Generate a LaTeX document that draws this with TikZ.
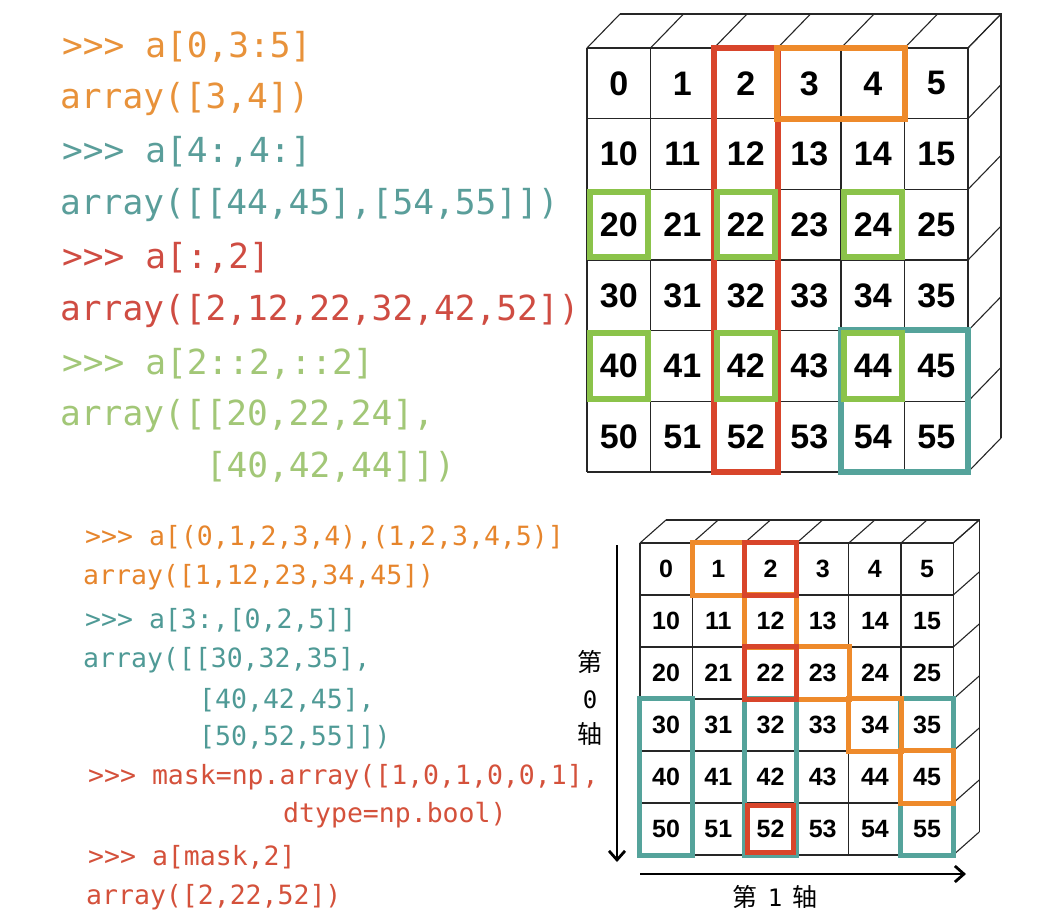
\documentclass[tikz,border=0pt]{standalone}
\usepackage{fontspec}
\setmonofont{DejaVu Sans Mono}
\newfontfamily\numfont{Liberation Sans}
\newfontfamily\cjkfont{Noto Sans CJK SC}
\usetikzlibrary{arrows.meta}
\definecolor{codeorange}{HTML}{E8923A}
\definecolor{codeteal}{HTML}{5A9E9A}
\definecolor{codered}{HTML}{CF4C42}
\definecolor{codegreen}{HTML}{A2C777}
\definecolor{botorange}{HTML}{E6852C}
\definecolor{botteal}{HTML}{4F9A96}
\definecolor{botred}{HTML}{D4513B}
\definecolor{boxred}{HTML}{D8452B}
\definecolor{boxorange}{HTML}{EE8A2B}
\definecolor{boxgreen}{HTML}{8BC34A}
\definecolor{boxteal}{HTML}{55A39B}
\tikzset{
  gridline/.style={draw=black!85, line width=1.1pt},
  bigcell/.style={inner sep=0pt, minimum width=63.5pt, minimum height=70.667pt,
    font=\numfont\bfseries\fontsize{34}{38}\selectfont},
  smallcell/.style={inner sep=0pt, minimum width=52.2pt, minimum height=52pt,
    font=\numfont\bfseries\fontsize{25}{28}\selectfont},
  topcode/.style={anchor=west, inner sep=0pt, font=\ttfamily\fontsize{34.5}{40}\selectfont},
  botcode/.style={anchor=west, inner sep=0pt, font=\ttfamily\fontsize{26.5}{30}\selectfont},
  hlbig/.style={line width=6pt},
  hlsmall/.style={line width=5pt},
  axisarrow/.style={line width=2.8pt, -{Straight Barb[length=9pt,width=16pt,line width=2.8pt]}},
  axislabel/.style={inner sep=0pt, font=\cjkfont\fontsize{25}{28}\selectfont},
  axisdigit/.style={inner sep=0pt, font=\ttfamily\fontsize{24}{28}\selectfont},
}
\begin{document}
\begin{tikzpicture}[x=1pt,y=-1pt]
\fill[white] (0,0) rectangle (1058,918);
\path[use as bounding box] (0,0) rectangle (1058,918);

% ---------------- top code ----------------
\node[topcode, text=codeorange] (ta1) at (62,47)  {>>> a[0,3:5]};
\node[topcode, text=codeorange] (ta2) at (60,99)  {array([3,4])};
\node[topcode, text=codeteal]   (ta3) at (62,152) {>>> a[4:,4:]};
\node[topcode, text=codeteal]   (ta4) at (60,205) {array([[44,45],[54,55]])};
\node[topcode, text=codered]    (ta5) at (62,258) {>>> a[:,2]};
\node[topcode, text=codered]    (ta6) at (60,311) {array([2,12,22,32,42,52])};
\node[topcode, text=codegreen]  (ta7) at (62,364) {>>> a[2::2,::2]};
\node[topcode, text=codegreen]  (ta8) at (60,416) {array([[20,22,24],};
\node[topcode, text=codegreen]  (ta9) at (205.6,467) {[40,42,44]])};

% ---------------- top grid ----------------
\foreach \r in {0,...,5}{
  \foreach \c in {0,...,5}{
    \pgfmathtruncatemacro\v{10*\r+\c}
    \node[bigcell] (t-\r-\c) at ({587+63.5*(\c+0.5)},{48+70.667*(\r+0.5)}) {\v};
  }
}
\foreach \i in {0,...,6}{
  \draw[gridline] ({587+63.5*\i},48) -- ++(0,424);
  \draw[gridline] (587,{48+70.667*\i}) -- ++(381,0);
  \draw[gridline] ({587+63.5*\i},48) -- ++(33,-34);
  \draw[gridline] (968,{48+70.667*\i}) -- ++(33,-34);
}
\draw[gridline] (620,14) -- (1001,14) -- (1001,438);

\draw[hlbig, boxred] (t-0-2.north west) rectangle (t-5-2.south east);
\draw[hlbig, boxorange] (t-0-3.north west) rectangle (t-0-4.south east);
\draw[hlbig, boxteal] (t-4-4.north west) rectangle (t-5-5.south east);
\foreach \r in {2,4}{
  \foreach \c in {0,2,4}{
    \draw[hlbig, boxgreen] ([shift={(3,3)}]t-\r-\c.north west) rectangle ([shift={(-3,-3)}]t-\r-\c.south east);
  }
}

% ---------------- bottom code ----------------
\node[botcode, text=botorange] (ba1) at (85,537) {>>> a[(0,1,2,3,4),(1,2,3,4,5)]};
\node[botcode, text=botorange] (ba2) at (83,577) {array([1,12,23,34,45])};
\node[botcode, text=botteal]   (ba3) at (85,620) {>>> a[3:,[0,2,5]]};
\node[botcode, text=botteal]   (ba4) at (83,660) {array([[30,32,35],};
\node[botcode, text=botteal]   (ba5) at (199,700) {[40,42,45],};
\node[botcode, text=botteal]   (ba6) at (199,737) {[50,52,55]])};
\node[botcode, text=botred]    (ba7) at (88,777) {>>> mask=np.array([1,0,1,0,0,1],};
\node[botcode, text=botred]    (ba8) at (283,815) {dtype=np.bool)};
\node[botcode, text=botred]    (ba9) at (88,857) {>>> a[mask,2]};
\node[botcode, text=botred]    (ba10) at (86,897) {array([2,22,52])};

% ---------------- bottom grid ----------------
\foreach \r in {0,...,5}{
  \foreach \c in {0,...,5}{
    \pgfmathtruncatemacro\v{10*\r+\c}
    \node[smallcell] (b-\r-\c) at ({640+52.2*(\c+0.5)},{543+52*(\r+0.5)}) {\v};
  }
}
\foreach \i in {0,...,6}{
  \draw[gridline] ({640+52.2*\i},543) -- ++(0,312);
  \draw[gridline] (640,{543+52*\i}) -- ++(313.2,0);
  \draw[gridline] ({640+52.2*\i},543) -- ++(26,-23);
  \draw[gridline] (953.2,{543+52*\i}) -- ++(26,-23);
}
\draw[gridline] (666,520) -- (979.2,520) -- (979.2,832);

\foreach \c in {0,2,5}{
  \draw[hlsmall, boxteal] (b-3-\c.north west) rectangle (b-5-\c.south east);
}
\draw[hlsmall, boxorange] (b-0-1.north west) rectangle (b-0-1.south east);
\draw[hlsmall, boxorange] (b-1-2.north west) rectangle (b-1-2.south east);
\draw[hlsmall, boxorange] (b-2-3.north west) rectangle (b-2-3.south east);
\draw[hlsmall, boxorange] (b-3-4.north west) rectangle (b-3-4.south east);
\draw[hlsmall, boxorange] (b-4-5.north west) rectangle (b-4-5.south east);
\draw[hlsmall, boxred] (b-0-2.north west) rectangle (b-0-2.south east);
\draw[hlsmall, boxred] (b-2-2.north west) rectangle (b-2-2.south east);
\draw[hlsmall, boxred] ([shift={(3,3)}]b-5-2.north west) rectangle ([shift={(-3,-3)}]b-5-2.south east);

% ---------------- axes ----------------
\coordinate (ax0s) at (617,545);
\coordinate (ax0e) at (617,862);
\coordinate (ax1s) at (640,874);
\coordinate (ax1e) at (966,874);
\draw[axisarrow] (ax0s) -- (ax0e);
\draw[axisarrow] (ax1s) -- (ax1e);
\node[axislabel] (l0a) at (590,662) {第};
\node[axisdigit] (l0b) at (590,700) {0};
\node[axislabel] (l0c) at (590,734) {轴};
\node[inner sep=0pt] (l1) at (775,897) {{\cjkfont\fontsize{25}{28}\selectfont 第}\hspace{10pt}{\ttfamily\fontsize{24}{28}\selectfont 1}\hspace{10pt}{\cjkfont\fontsize{25}{28}\selectfont 轴}};
\end{tikzpicture}
\end{document}
